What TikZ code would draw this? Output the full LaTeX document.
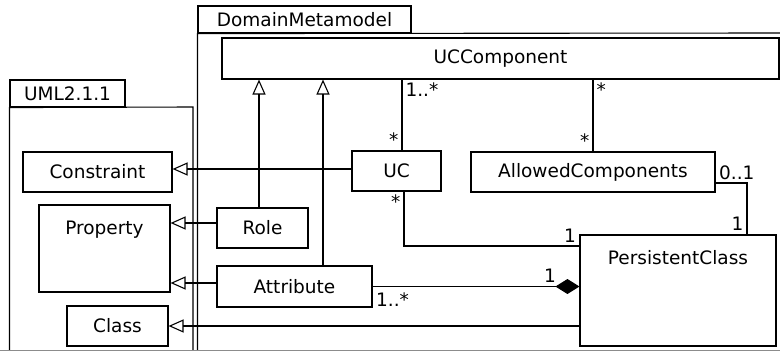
\documentclass[tikz,border=0pt]{standalone}
\usepackage{fontspec}
\setmainfont{DejaVu Sans}
\usepackage{tikz}
\usetikzlibrary{arrows.meta}
\tikzstyle{cls} = [rectangle, draw=black, line width=1.1pt, fill=white, inner sep=0pt, text centered]
\tikzstyle{pkgtab} = [rectangle, draw=black, line width=1.1pt, inner sep=0pt, minimum height=27pt]
\tikzstyle{gen} = [line width=1.1pt, -{Triangle[open, length=15pt, width=13pt, line width=1.1pt]}]
\tikzstyle{assoc} = [line width=1.1pt]
\tikzstyle{comp} = [line width=1.1pt, -{Diamond[length=24pt, width=15pt]}]
\tikzstyle{mult} = [inner sep=3pt]

\begin{document}
\begin{tikzpicture}[x=1pt, y=-1pt, font=\fontsize{18.5}{21}\selectfont]
        \useasboundingbox (0,0) rectangle (780,351);

        % packages
        \node (umltab) [pkgtab, minimum width=115pt] at (67.5,93.5) {UML2.1.1};
        \node (dmtab) [pkgtab, minimum width=213pt] at (304.5,19.5) {DomainMetamodel};
        \draw [line width=1.1pt] (umltab.south west |- 0,350) -- (umltab.south west) -- (193,107) -- (193,350);
        \draw [line width=1.1pt] (dmtab.south west |- 0,350) -- (dmtab.south west) -- (780,33);
        \draw [black!45, line width=1pt] (0,350.5) -- (780,350.5);

        % classes
        \node (ucc) [cls, minimum width=557pt, minimum height=41pt] at (500.5,58.5) {UCComponent};
        \node (constraint) [cls, minimum width=149pt, minimum height=40pt] at (97.5,172) {Constraint};
        \node (prop) [cls, minimum width=131pt, minimum height=87pt, label={[anchor=north, yshift=-13pt]north:Property}] at (104.5,248.5) {};
        \node (class) [cls, minimum width=101pt, minimum height=40pt] at (117.5,326) {Class};
        \node (role) [cls, minimum width=91pt, minimum height=40pt] at (262.5,228) {Role};
        \node (attr) [cls, minimum width=155pt, minimum height=41pt] at (294.5,286.5) {Attribute};
        \node (uc) [cls, minimum width=89pt, minimum height=40pt] at (396.5,171) {UC};
        \node (allowed) [cls, minimum width=244pt, minimum height=40pt] at (593,172) {AllowedComponents};
        \node (pc) [cls, minimum width=196pt, minimum height=111pt, label={[anchor=north, yshift=-12pt]north:PersistentClass}] at (678,290.5) {};

        % generalizations
        \draw [gen] ([xshift=-3.5pt]role.north) -- ([xshift=-3.5pt]role.north |- ucc.south);
        \draw [gen] ([xshift=28.5pt]attr.north) -- ([xshift=28.5pt]attr.north |- ucc.south);
        \draw [gen] ([yshift=2pt]uc.west) -- ([yshift=2pt]uc.west -| constraint.east);
        \draw [gen] ([yshift=5pt]role.west) -- ([yshift=5pt]role.west -| prop.east);
        \draw [gen] ([yshift=3.5pt]attr.west) -- ([yshift=3.5pt]attr.west -| prop.east);
        \draw [gen] (pc.west |- class.east) -- (class.east);

        % associations
        \draw [assoc] ([xshift=5.5pt]uc.north) -- node[mult, at start, anchor=south east] {*} node[mult, at end, anchor=north west] {1..*} ([xshift=5.5pt]uc.north |- ucc.south);
        \draw [assoc] (allowed.north) -- node[mult, at start, anchor=south east] {*} node[mult, at end, anchor=north west] {*} (allowed.north |- ucc.south);
        \draw [assoc] ([xshift=7.5pt]uc.south) |- node[mult, at start, anchor=north east] {*} node[mult, at end, anchor=south east] {1} ([yshift=44.5pt]pc.west);
        \draw [assoc] ([yshift=-11pt]allowed.east) -| node[mult, at start, anchor=south west] {0..1} node[mult, at end, anchor=south east] {1} ([xshift=69pt]pc.north);
        \draw [comp] (attr.east) -- node[mult, at start, anchor=north west, yshift=-3pt] {1..*} node[mult, at end, anchor=south east, xshift=-20pt] {1} (attr.east -| pc.west);
 \end{tikzpicture}
\end{document}
